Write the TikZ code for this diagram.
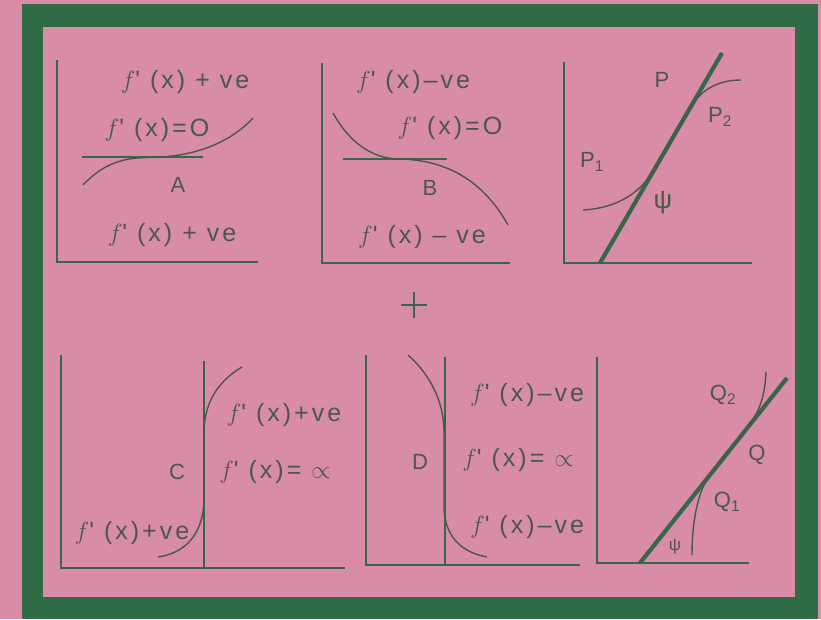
\documentclass[tikz,border=0pt]{standalone}
\usepackage{fontspec}
\setmainfont{Liberation Sans}
\usetikzlibrary{positioning}
\definecolor{pinkbg}{HTML}{D98CA8}
\definecolor{framegreen}{HTML}{2F6C45}
\definecolor{ink}{HTML}{36674A}
\definecolor{txt}{HTML}{4C5749}
\newfontfamily\lblfont[LetterSpace=12]{Liberation Sans}
\newcommand{\fpx}{$f$' (x)}
\tikzset{
  axis/.style      = {draw=ink, line width=2.8pt},
  tangent/.style   = {draw=ink, line width=2.2pt},
  steepline/.style = {draw=ink, line width=4.2pt},
  curve/.style     = {draw=txt, line width=1.4pt},
  lbl/.style       = {font={\lblfont\fontsize{25}{26}\selectfont}, text=txt, inner sep=0pt},
  pt/.style        = {font={\lblfont\fontsize{22}{24}\selectfont}, text=txt, inner sep=0pt},
}

\begin{document}
\begin{tikzpicture}[x=1pt, y=-1pt]
  \useasboundingbox (0,0) rectangle (821,619);
  \fill[pinkbg] (0,0) rectangle (821,619);
  \fill[framegreen] (22,4) rectangle (818,619);
  \fill[pinkbg] (43,27) rectangle (795,597);

  % A: stationary point, f' + on both sides
  \draw[axis] (57,60) |- (258,262);
  \draw[tangent] (82,157) -- (203,157);
  \draw[curve] (83,185) .. controls (105,162) and (125,157.5) .. (150,157.5)
               .. controls (185,157) and (225,148) .. (253,118);
  \node[lbl] (atop) at (185,82) {\fpx{} + ve};
  \node[lbl] (azero) at (157,130) {\fpx=O};
  \node[pt] (aname) at (178,185) {A};
  \node[lbl] (abot) at (172,235) {\fpx{} + ve};

  % B: stationary point, f' - on both sides
  \draw[axis] (322,63) |- (510,263);
  \draw[tangent] (343,159) -- (447,159);
  \draw[curve] (333,113) .. controls (348,140) and (370,159) .. (400,159)
               .. controls (440,160) and (480,175) .. (508,225);
  \node[lbl] (btop) at (413,82) {\fpx–ve};
  \node[lbl] (bzero) at (450,128) {\fpx=O};
  \node[pt] (bname) at (430,188) {B};
  \node[lbl] (bbot) at (422,237) {\fpx{} – ve};

  % P: tangent crossing the curve
  \draw[axis] (564,62) |- (752,263);
  \draw[steepline] (600,263) -- (722,53);
  \draw[curve] (583,210) .. controls (620,208) and (643,190) .. (655,168)
               -- (690,108) .. controls (702,88) and (720,80) .. (741,80);
  \node[pt] (pp) at (662,80) {P};
  \node[pt] (ptwo) at (720,117) {P\textsubscript{2}};
  \node[pt] (pone) at (592,162) {P\textsubscript{1}};
  \node[pt, font={\lblfont\fontsize{26}{28}\selectfont}] (ppsi) at (663,203) {ψ};

  \draw[ink, line width=2pt] (401,305) -- (427,305) (414,292) -- (414,318);

  % C: vertical tangent, f' + on both sides
  \draw[axis] (61,355) |- (345,568);
  \draw[tangent] (204,361) -- (204,568);
  \draw[curve] (158,557) .. controls (185,553) and (203,535) .. (204,500)
               -- (204,430) .. controls (205,400) and (220,380) .. (242,367);
  \node[lbl] (ctop) at (284,415) {\fpx+ve};
  \node[pt] (cname) at (177,472) {C};
  \node[lbl] (cinf) at (275,472) {\fpx= $\propto$};
  \node[lbl] (cbot) at (132,533) {\fpx+ve};

  % D: vertical tangent, f' - on both sides
  \draw[axis] (366,355) |- (580,565);
  \draw[tangent] (445,357) -- (445,565);
  \draw[curve] (408,355) .. controls (425,370) and (443,395) .. (444,430)
               -- (444,510) .. controls (446,540) and (465,553) .. (487,557);
  \node[lbl] (dtop) at (527,395) {\fpx–ve};
  \node[pt] (dname) at (420,462) {D};
  \node[lbl] (dinf) at (518,460) {\fpx= $\propto$};
  \node[lbl] (dbot) at (527,527) {\fpx–ve};

  % Q: tangent crossing the curve
  \draw[axis] (597,357) |- (749,563);
  \draw[steepline] (640,563) -- (787,378);
  \draw[curve] (692,555) .. controls (692,520) and (698,492) .. (710,474)
               -- (750,424) .. controls (760,410) and (765,395) .. (766,372);
  \node[pt] (qtwo) at (723,395) {Q\textsubscript{2}};
  \node[pt] (qq) at (757,455) {Q};
  \node[pt] (qone) at (727,502) {Q\textsubscript{1}};
  \node[pt, font={\lblfont\fontsize{17}{18}\selectfont}] (qpsi) at (675,547) {ψ};
\end{tikzpicture}
\end{document}
